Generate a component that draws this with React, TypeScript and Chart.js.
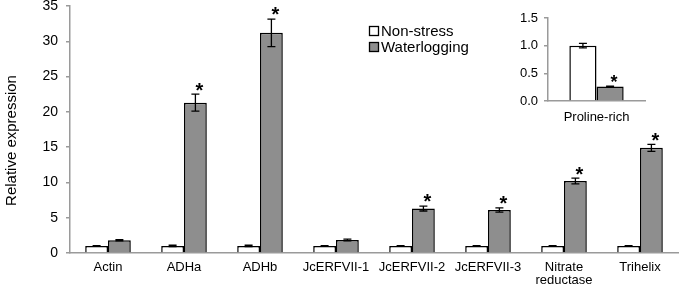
import React, { useEffect, useRef } from "react";
import { Chart, registerables } from "chart.js";

Chart.register(...registerables);

const categories: (string | string[])[] = [
  "Actin",
  "ADHa",
  "ADHb",
  "JcERFVII-1",
  "JcERFVII-2",
  "JcERFVII-3",
  ["Nitrate", "reductase"],
  "Trihelix",
];
const nonStress = [1, 1, 1, 1, 1, 1, 1, 1];
const nonStressErr = [0.03, 0.1, 0.1, 0.03, 0.03, 0.03, 0.03, 0.03];
const waterlogging = [1.8, 21.3, 31.2, 1.85, 6.3, 6.1, 10.2, 14.9];
const waterloggingErr = [0.08, 1.2, 1.95, 0.12, 0.35, 0.3, 0.4, 0.5];
const waterloggingSig = [false, true, true, false, true, true, true, true];

const insetCategories = ["Proline-rich"];
const insetNonStress = [1.0];
const insetNonStressErr = [0.04];
const insetWaterlogging = [0.26];
const insetWaterloggingErr = [0.01];
const insetWaterloggingSig = [true];

const seriesNames = ["Non-stress", "Waterlogging"];
const yTitle = "Relative expression";
const WHITE = "#ffffff";
const GRAY = "#8e8e8e";
const AXIS = "#9a9a9a";
const FONT = "'Liberation Sans', Arial, sans-serif";

function errorBarPlugin(errs: number[][], sigs: boolean[][], starSize: number) {
  return {
    id: "errbars",
    afterDatasetsDraw(chart: any) {
      const ctx = chart.ctx;
      const y = chart.scales.y;
      chart.data.datasets.forEach((ds: any, di: number) => {
        const meta = chart.getDatasetMeta(di);
        meta.data.forEach((el: any, i: number) => {
          const v = ds.data[i];
          const e = errs[di][i];
          const yt = y.getPixelForValue(v + e);
          const yb = y.getPixelForValue(v - e);
          ctx.save();
          ctx.strokeStyle = "#000";
          ctx.lineWidth = 1.3;
          ctx.beginPath();
          ctx.moveTo(el.x, yt);
          ctx.lineTo(el.x, yb);
          ctx.moveTo(el.x - 4, yt);
          ctx.lineTo(el.x + 4, yt);
          ctx.moveTo(el.x - 4, yb);
          ctx.lineTo(el.x + 4, yb);
          ctx.stroke();
          if (sigs[di] && sigs[di][i]) {
            ctx.fillStyle = "#000";
            ctx.font = `bold ${starSize}px ${FONT}`;
            ctx.textAlign = "center";
            ctx.textBaseline = "alphabetic";
            ctx.fillText("*", el.x + 4, yt + starSize * 0.12);
          }
          ctx.restore();
        });
      });
    },
  };
}

const legendPlugin = {
  id: "customLegend",
  afterDraw(chart: any) {
    const ctx = chart.ctx;
    const items = [
      { label: seriesNames[0], color: WHITE, y: 31 },
      { label: seriesNames[1], color: GRAY, y: 47 },
    ];
    ctx.save();
    items.forEach((it) => {
      ctx.fillStyle = it.color;
      ctx.fillRect(369.5, it.y - 4.5, 9, 9);
      ctx.strokeStyle = "#000";
      ctx.lineWidth = 1.3;
      ctx.strokeRect(369.5, it.y - 4.5, 9, 9);
      ctx.fillStyle = "#000";
      ctx.font = `15px ${FONT}`;
      ctx.textAlign = "left";
      ctx.textBaseline = "middle";
      ctx.fillText(it.label, 381, it.y + 1);
    });
    ctx.restore();
  },
};

// draws the y-axis title a little below the axis centre, as in the original figure
const yTitlePlugin = {
  id: "yTitle",
  afterDraw(chart: any) {
    const ctx = chart.ctx;
    const area = chart.chartArea;
    ctx.save();
    ctx.translate(12, (area.top + area.bottom) / 2 + 11);
    ctx.rotate(-Math.PI / 2);
    ctx.fillStyle = "#000";
    ctx.font = `15px ${FONT}`;
    ctx.textAlign = "center";
    ctx.textBaseline = "middle";
    ctx.fillText(yTitle, 0, 0);
    ctx.restore();
  },
};

export default function App() {
  const mainRef = useRef<HTMLCanvasElement>(null);
  const insetRef = useRef<HTMLCanvasElement>(null);

  useEffect(() => {
    document.body.style.margin = "0";
    const mainChart = new Chart(mainRef.current!, {
      type: "bar",
      data: {
        labels: categories as any,
        datasets: [
          {
            label: seriesNames[0],
            data: nonStress,
            backgroundColor: WHITE,
            borderColor: "#000",
            borderWidth: 1.5,
            categoryPercentage: 0.6,
            barPercentage: 1.0,
          },
          {
            label: seriesNames[1],
            data: waterlogging,
            backgroundColor: GRAY,
            borderColor: "#000",
            borderWidth: 1.5,
            categoryPercentage: 0.6,
            barPercentage: 1.0,
          },
        ],
      },
      options: {
        responsive: false,
        animation: false,
        layout: { padding: { top: 6, right: 2, left: 0, bottom: 0 } },
        plugins: { legend: { display: false }, tooltip: { enabled: false } },
        scales: {
          x: {
            grid: { display: false },
            border: { display: true, color: AXIS, width: 1.5 },
            ticks: {
              color: "#000",
              font: { family: FONT, size: 13, lineHeight: 1.0 },
              maxRotation: 0,
              autoSkip: false,
              padding: 0,
            },
            afterFit: (s: any) => {
              s.height = 34;
              s.paddingLeft = 0;
              s.paddingRight = 0;
            },
          },
          y: {
            min: 0,
            max: 35,
            grid: { drawOnChartArea: false, drawTicks: true, tickLength: 4, color: AXIS, lineWidth: 1.5 },
            border: { display: true, color: AXIS, width: 1.5 },
            ticks: { stepSize: 5, color: "#000", font: { family: FONT, size: 14 }, padding: 8 },
            afterFit: (s: any) => {
              s.width = 70;
              s.paddingTop = 0;
              s.paddingBottom = 0;
            },
          },
        },
      },
      plugins: [errorBarPlugin([nonStressErr, waterloggingErr], [[], waterloggingSig], 20), legendPlugin, yTitlePlugin],
    });

    const insetChart = new Chart(insetRef.current!, {
      type: "bar",
      data: {
        labels: insetCategories,
        datasets: [
          {
            label: seriesNames[0],
            data: insetNonStress,
            backgroundColor: WHITE,
            borderColor: "#000",
            borderWidth: 1.5,
            categoryPercentage: 0.56,
            barPercentage: 1.0,
          },
          {
            label: seriesNames[1],
            data: insetWaterlogging,
            backgroundColor: GRAY,
            borderColor: "#000",
            borderWidth: 1.5,
            categoryPercentage: 0.56,
            barPercentage: 1.0,
          },
        ],
      },
      options: {
        responsive: false,
        animation: false,
        layout: { padding: { top: 18, right: 15, left: 0, bottom: 0 } },
        plugins: { legend: { display: false }, tooltip: { enabled: false } },
        scales: {
          x: {
            grid: { display: false },
            border: { display: true, color: AXIS, width: 1.5 },
            ticks: { color: "#000", font: { family: FONT, size: 13 }, maxRotation: 0, padding: 1 },
            afterFit: (s: any) => {
              s.height = 27;
              s.paddingLeft = 0;
              s.paddingRight = 0;
            },
          },
          y: {
            min: 0,
            max: 1.5,
            grid: { drawOnChartArea: false, drawTicks: true, tickLength: 4, color: AXIS, lineWidth: 1.5 },
            border: { display: true, color: AXIS, width: 1.5 },
            ticks: {
              stepSize: 0.5,
              color: "#000",
              font: { family: FONT, size: 13 },
              padding: 6,
              callback: (v: any) => Number(v).toFixed(1),
            },
            afterFit: (s: any) => {
              s.width = 48;
              s.paddingTop = 0;
              s.paddingBottom = 0;
            },
          },
        },
      },
      plugins: [errorBarPlugin([insetNonStressErr, insetWaterloggingErr], [[], insetWaterloggingSig], 18)],
    });

    return () => {
      mainChart.destroy();
      insetChart.destroy();
    };
  }, []);

  return (
    <div style={{ position: "relative", width: 680, height: 287, background: "#fff" }}>
      <canvas ref={mainRef} width={680} height={287} style={{ position: "absolute", left: 0, top: 0 }} />
      <canvas ref={insetRef} width={160} height={128} style={{ position: "absolute", left: 500, top: 0 }} />
    </div>
  );
}
